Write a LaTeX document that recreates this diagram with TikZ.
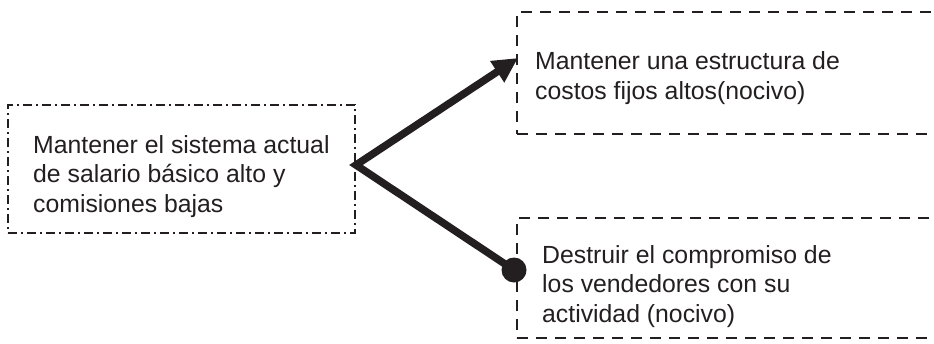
\documentclass[tikz,border=0pt]{standalone}
\usepackage{fontspec}
\setmainfont{Liberation Sans}
\usetikzlibrary{arrows.meta}
\definecolor{ink}{HTML}{231F20}
\begin{document}
\begin{tikzpicture}[x=1pt,y=-1pt,
  dashdotbox/.style={draw=ink, line width=2.2pt, dash pattern=on 9pt off 4pt on 2pt off 4pt, inner sep=0pt},
  dashbox/.style={draw=ink, line width=2pt, dash pattern=on 11pt off 8pt, inner sep=0pt},
  txt/.style={text=ink, font=\fontsize{24.8}{29.3}\selectfont, align=left, inner sep=0pt, anchor=base west},
  conn/.style={draw=ink, line width=7.5pt, line join=miter}]
\useasboundingbox (0,0) rectangle (934,343);
\clip (0,0) rectangle (934,343);
% boxes
\node[dashdotbox, minimum width=347pt, minimum height=128pt] (a) at (181.5,169) {};
\node[dashbox, minimum width=450pt, minimum height=122pt, anchor=north west] (b) at (516,11) {};
\node[dashbox, minimum width=450pt, minimum height=120pt, anchor=north west] (c) at (516,217) {};
% texts (anchored at the baseline of the last line)
\node[txt] (ta) at (33,212) {Mantener el sistema actual\\de salario básico alto y\\comisiones bajas};
\node[txt] (tb) at (535,99) {Mantener una estructura de\\costos fijos altos(nocivo)};
\node[txt] (tc) at (542,322) {Destruir el compromiso de\\los vendedores con su\\actividad (nocivo)};
% connectors
\coordinate (v) at (356,165);
\coordinate (tip) at (518,58);
\coordinate (dot) at (514,270);
\draw[conn, {Triangle[length=25pt,width=24pt]}-] (tip) -- (v) -- (dot);
\fill[ink] (dot) circle (12.5pt);
\end{tikzpicture}
\end{document}
